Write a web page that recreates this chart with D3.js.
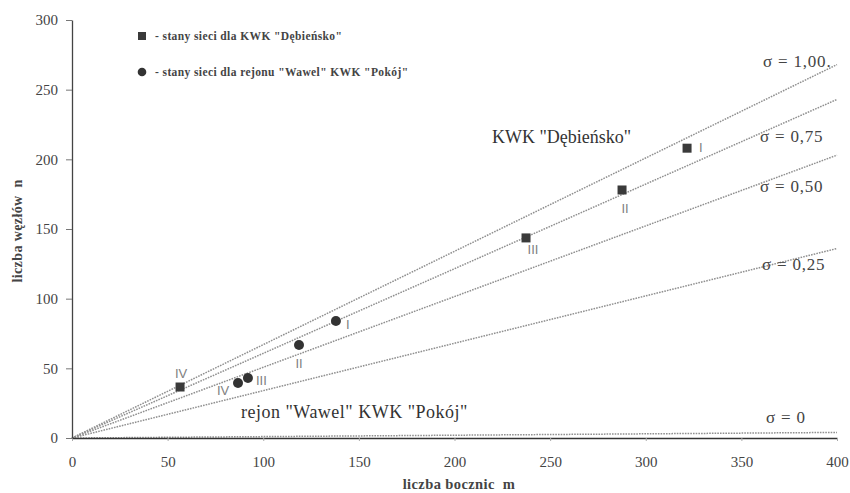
<!DOCTYPE html>
<html><head><meta charset="utf-8">
<script src="https://cdn.jsdelivr.net/npm/d3@7"></script>
<style>
body{margin:0;background:#fff;}
svg{display:block;}
</style></head>
<body>
<svg id="c" width="850" height="493"></svg>
<script>
// ---- data ----
const xTicks = [0,50,100,150,200,250,300,350,400];
const yTicks = [0,50,100,150,200,250,300];
const sigmaLabels = ["σ = 1,00.", "σ = 0,75", "σ = 0,50", "σ = 0,25", "σ = 0"];
const sigmaEndN = [268, 243, 203, 136, 4];   // n at m = 400
const lineEndM = 400;
const debLabels = ["I","II","III","IV"];
const debM = [321.6, 287.6, 237.4, 56.5];
const debN = [208, 178, 143.6, 36.6];
const wawLabels = ["I","II","III","IV"];
const wawM = [138, 118.7, 92, 86.8];
const wawN = [84, 66.8, 43, 39.5];
const legendTexts = ['- stany sieci dla KWK "Dębieńsko"', '- stany sieci dla rejonu "Wawel" KWK "Pokój"'];
const xTitle = "liczba bocznic  m";
const yTitle = "liczba węzłów  n";
const debTitle = 'KWK "Dębieńsko"';
const wawTitle = 'rejon "Wawel" KWK "Pokój"';

// ---- layout ----
const svg = d3.select("#c");
const x = d3.scaleLinear().domain([0,400]).range([72,837]);
const y = d3.scaleLinear().domain([0,300]).range([438,20]);
const serif = "'Liberation Serif','DejaVu Serif',serif";
const sans = "'Liberation Sans',Arial,sans-serif";

// sigma lines
const lineGen = d3.line().x(d=>x(d[0])).y(d=>y(d[1]));
svg.append("g").selectAll("path").data(sigmaEndN).join("path")
  .attr("d", d => lineGen([[0,0],[lineEndM,d]]))
  .attr("fill","none").attr("stroke","#909090").attr("stroke-width",1.5)
  .attr("stroke-dasharray","1.6,1.1");

// axes
const xAxis = d3.axisBottom(x).tickValues(xTicks).tickSize(3).tickSizeOuter(0);
const gx = svg.append("g").attr("transform",`translate(0,${y(0)})`).call(xAxis);
gx.select(".domain").attr("stroke","#333").attr("stroke-width",1.3);
gx.selectAll(".tick line").attr("stroke","#aaa");
gx.selectAll(".tick text").attr("font-family",serif).attr("font-size",15).attr("fill","#444")
  .attr("y",29).attr("dy",0);

const yAxis = d3.axisLeft(y).tickValues(yTicks).tickSize(6).tickSizeOuter(0);
const gy = svg.append("g").attr("transform",`translate(${x(0)},0)`).call(yAxis);
gy.select(".domain").attr("stroke","#444").attr("stroke-width",1.3);
gy.selectAll(".tick line").attr("stroke","#777");
gy.selectAll(".tick text").attr("font-family",serif).attr("font-size",15).attr("fill","#444").attr("x",-14);

// axis titles
svg.append("text").attr("x",459).attr("y",489).attr("text-anchor","middle")
  .attr("font-family",serif).attr("font-size",14.5).attr("font-weight","bold").attr("fill","#444")
  .attr("letter-spacing",0.4).style("white-space","pre").text(xTitle);
svg.append("text").attr("transform","translate(22,231) rotate(-90)").attr("text-anchor","middle")
  .attr("font-family",serif).attr("font-size",14).attr("font-weight","bold").attr("fill","#444")
  .attr("letter-spacing",0.4).style("white-space","pre").text(yTitle);

// sigma labels
const sigLabPos = [[763,67],[760,142],[760,192],[762,270],[766,423]];
svg.append("g").selectAll("text").data(sigmaLabels).join("text")
  .attr("x",(d,i)=>sigLabPos[i][0]).attr("y",(d,i)=>sigLabPos[i][1])
  .attr("font-family",serif).attr("font-size",17).attr("letter-spacing",0.8)
  .attr("fill","#444").text(d=>d);

// group titles
svg.append("text").attr("x",492).attr("y",143).attr("font-family",serif).attr("font-size",18)
  .attr("fill","#333").text(debTitle);
svg.append("text").attr("x",241).attr("y",418).attr("font-family",serif).attr("font-size",18)
  .attr("letter-spacing",0.5).attr("fill","#333").text(wawTitle);

// points - Debiensko squares
const ms = 9;
svg.append("g").selectAll("rect").data(debM).join("rect")
  .attr("x",(d)=>x(d)-ms/2).attr("y",(d,i)=>y(debN[i])-ms/2)
  .attr("width",ms).attr("height",ms).attr("fill","#3a3a3a");
// Wawel circles
svg.append("g").selectAll("circle").data(wawM).join("circle")
  .attr("cx",d=>x(d)).attr("cy",(d,i)=>y(wawN[i])).attr("r",5).attr("fill","#333");

// point labels (offsets in px)
const debOff = [[12,4,"start"],[3,23,"middle"],[7,16,"middle"],[1,-9,"middle"]];
svg.append("g").selectAll("text").data(debLabels).join("text")
  .attr("x",(d,i)=>x(debM[i])+debOff[i][0]).attr("y",(d,i)=>y(debN[i])+debOff[i][1])
  .attr("text-anchor",(d,i)=>debOff[i][2])
  .attr("font-family",sans).attr("font-size",13).attr("fill","#808080").text(d=>d);
const wawOff = [[10,8,"start"],[0,23,"middle"],[8,7,"start"],[-21,12,"start"]];
svg.append("g").selectAll("text").data(wawLabels).join("text")
  .attr("x",(d,i)=>x(wawM[i])+wawOff[i][0]).attr("y",(d,i)=>y(wawN[i])+wawOff[i][1])
  .attr("text-anchor",(d,i)=>wawOff[i][2])
  .attr("font-family",sans).attr("font-size",13).attr("fill","#808080").text(d=>d);

// legend
const lg = svg.append("g");
lg.append("rect").attr("x",138).attr("y",32).attr("width",8).attr("height",8).attr("fill","#3a3a3a");
lg.append("circle").attr("cx",142).attr("cy",72).attr("r",4.3).attr("fill","#333");
lg.selectAll("text").data(legendTexts).join("text")
  .attr("x",155).attr("y",(d,i)=>[40,76][i])
  .attr("font-family",serif).attr("font-size",11.5).attr("font-weight","bold")
  .attr("letter-spacing",0.4).attr("fill","#444").text(d=>d);
</script>
</body></html>
